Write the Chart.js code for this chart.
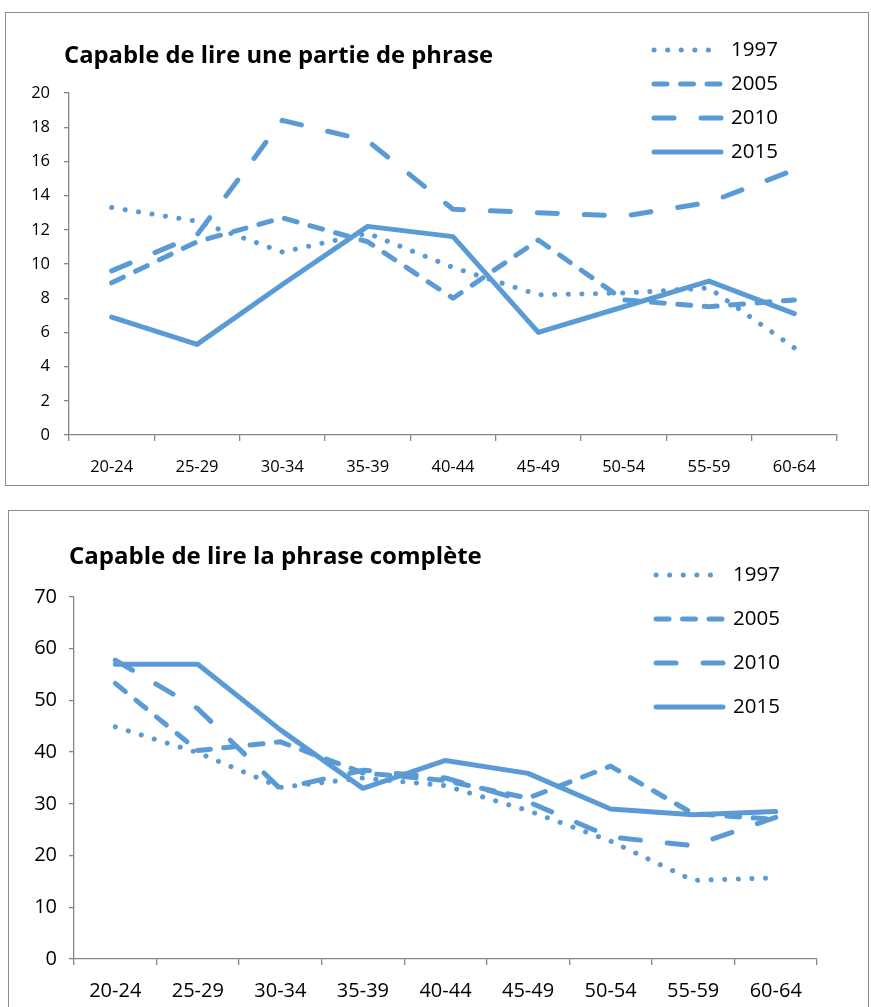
<!DOCTYPE html>
<html>
<head>
<meta charset="utf-8">
<script src="https://cdn.jsdelivr.net/npm/chart.js@4/dist/chart.umd.min.js"></script>
<style>
  body { margin: 0; background: white; width: 871px; height: 1007px; position: relative; overflow: hidden; }
  .box { position: absolute; border: 1.5px solid #8c8c8c; box-sizing: border-box; }
  .wrap { position: absolute; left: 0; width: 871px; }
</style>
</head>
<body>
<div class="box" style="left:5px; top:12px; width:864px; height:474px;"></div>
<div class="box" style="left:8px; top:510px; width:861px; height:510px;"></div>
<div class="wrap" style="top:0px; height:490px;"><canvas id="chartPartie"></canvas></div>
<div class="wrap" style="top:505px; height:502px;"><canvas id="chartComplete"></canvas></div>
<script>
// Groupes d'âge
const ages = ['20-24', '25-29', '30-34', '35-39', '40-44', '45-49', '50-54', '55-59', '60-64'];
const years = ['1997', '2005', '2010', '2015'];

// Capable de lire une partie de phrase
const partie1997 = [13.3, 12.5, 10.7, 11.8, 9.8, 8.2, 8.3, 8.6, 5.1];
const partie2005 = [8.9, 11.3, 12.7, 11.3, 8.0, 11.4, 7.9, 7.5, 7.9];
const partie2010 = [9.6, 11.7, 18.4, 17.2, 13.2, 13.0, 12.8, 13.6, 15.5];
const partie2015 = [6.9, 5.3, 8.8, 12.2, 11.6, 6.0, 7.5, 9.0, 7.1];

// Capable de lire la phrase complète
const complete1997 = [44.9, 39.9, 33.2, 35.0, 33.5, 28.7, 22.8, 15.2, 15.7];
const complete2005 = [53.3, 40.3, 42.0, 36.0, 34.5, 31.1, 37.3, 28.1, 27.0];
const complete2010 = [57.8, 48.4, 32.9, 36.5, 35.0, 30.4, 23.6, 21.9, 27.4];
const complete2015 = [57.0, 57.0, 44.3, 33.0, 38.4, 35.9, 29.0, 27.9, 28.5];

const blue = '#5b9bd5';
const grey = '#868686';
const dashes = [[0.1, 13.5], [13, 13.5], [20, 27], []];

// titre + légende dessinés à la main (la légende est posée sur le graphique)
const boxText = {
    id: 'boxText',
    afterDraw(chart, args, opts) {
        const ctx = chart.ctx;
        ctx.save();
        ctx.fillStyle = '#000';
        ctx.textBaseline = 'middle';
        ctx.font = opts.titleFont;
        ctx.fillText(opts.title, opts.titleX, opts.titleY);
        ctx.font = opts.legendFont;
        chart.data.datasets.forEach((ds, i) => {
            const y = opts.legendY + i * opts.legendGap;
            ctx.strokeStyle = ds.borderColor;
            ctx.lineWidth = ds.borderWidth;
            ctx.lineCap = 'round';
            ctx.setLineDash(ds.borderDash);
            ctx.beginPath();
            ctx.moveTo(opts.legendX, y);
            ctx.lineTo(opts.legendX + 67, y);
            ctx.stroke();
            ctx.setLineDash([]);
            ctx.fillText(ds.label, opts.legendX + 77, y);
        });
        ctx.restore();
    }
};

function makeChart(id, series, yMax, step, s) {
    const datasets = series.map((values, i) => ({
        label: years[i],
        data: values,
        borderColor: blue,
        borderWidth: 5,
        borderDash: dashes[i],
        borderCapStyle: 'round',
        borderJoinStyle: 'round',
        pointRadius: 0,
        tension: 0,
        fill: false
    }));
    return new Chart(document.getElementById(id), {
        type: 'line',
        data: { labels: ages, datasets: datasets },
        plugins: [boxText],
        options: {
            responsive: true,
            maintainAspectRatio: false,
            animation: false,
            layout: { padding: s.padding },
            plugins: {
                legend: { display: false },
                tooltip: { enabled: false },
                boxText: s.text
            },
            scales: {
                x: {
                    offset: true,
                    grid: { offset: true, drawOnChartArea: false, color: grey, lineWidth: 1.3, tickLength: 6 },
                    border: { color: grey, width: 1.3 },
                    ticks: { color: '#000', font: { family: 'Open Sans', size: s.fontSize }, padding: s.xPad, maxRotation: 0 },
                    afterFit: scale => { scale.height = s.xHeight; }
                },
                y: {
                    min: 0,
                    max: yMax,
                    grid: { drawOnChartArea: false, color: grey, lineWidth: 1.3, tickLength: 5 },
                    border: { color: grey, width: 1.3 },
                    ticks: { stepSize: step, color: '#000', font: { family: 'Open Sans', size: s.fontSize }, padding: s.yPad },
                    afterFit: scale => { scale.width = 50; }
                }
            }
        }
    });
}

makeChart('chartPartie', [partie1997, partie2005, partie2010, partie2015], 20, 2, {
    padding: { left: 19, right: 34, top: 93, bottom: 15 },
    xHeight: 40, fontSize: 16.5, xPad: 16, yPad: 14,
    text: {
        title: 'Capable de lire une partie de phrase',
        titleFont: 'bold 23.8px "Open Sans"', titleX: 64, titleY: 56,
        legendFont: '20.5px "Open Sans"', legendX: 654, legendY: 50, legendGap: 34
    }
});

makeChart('chartComplete', [complete1997, complete2005, complete2010, complete2015], 70, 10, {
    padding: { left: 24, right: 54, top: 92, bottom: 3 },
    xHeight: 45, fontSize: 20, xPad: 14, yPad: 12,
    text: {
        title: 'Capable de lire la phrase complète',
        titleFont: 'bold 24px "Open Sans"', titleX: 69, titleY: 52,
        legendFont: '20.5px "Open Sans"', legendX: 656, legendY: 70, legendGap: 44
    }
});
</script>
</body>
</html>
